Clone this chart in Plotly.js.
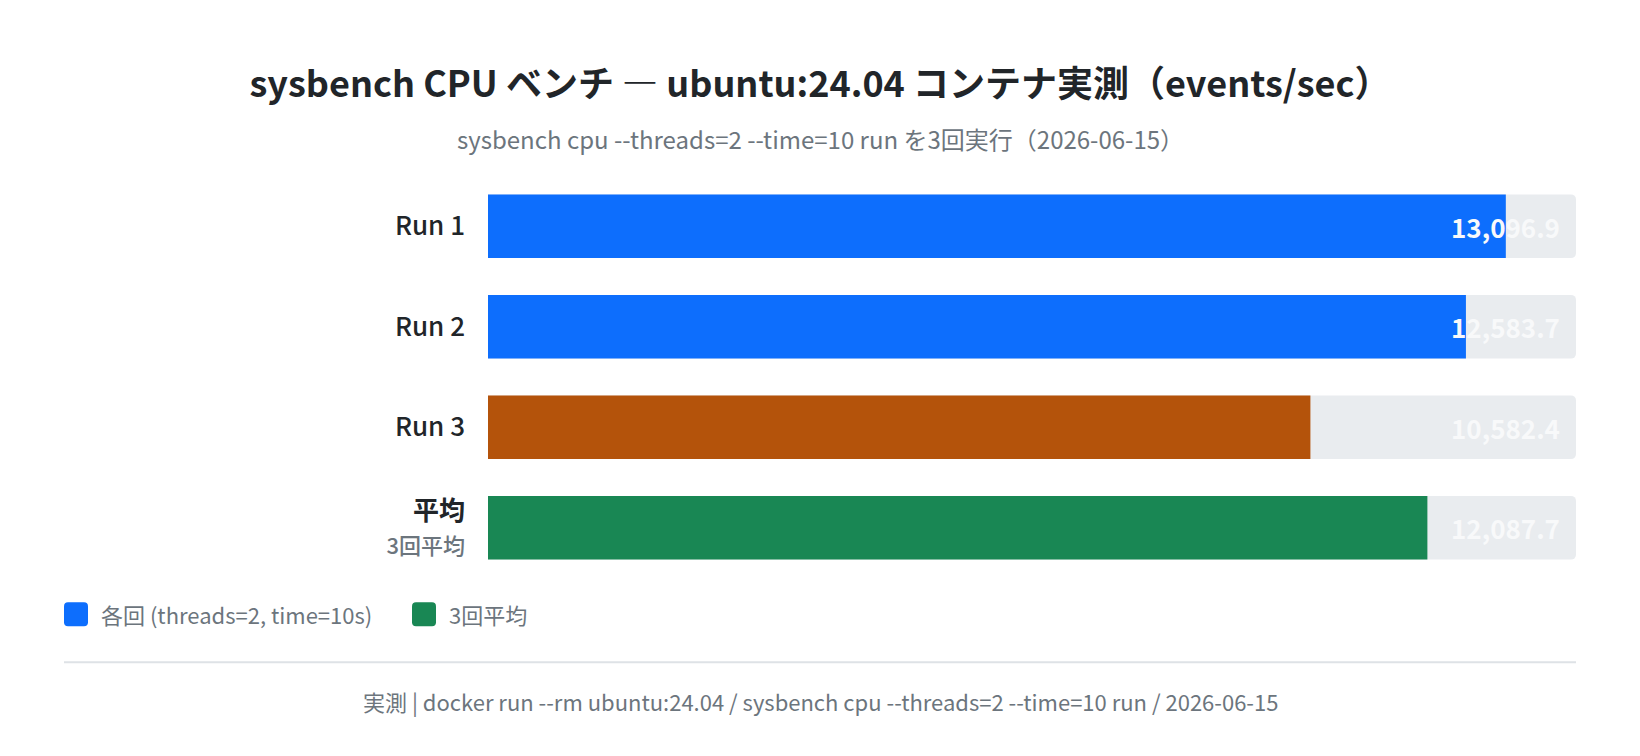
<!DOCTYPE html>
<html>
<head>
<meta charset="utf-8">
<script src="https://cdn.plot.ly/plotly-3.0.1.min.js"></script>
<style>
  html, body { margin: 0; padding: 0; background: #ffffff; }
  #plot { width: 1640px; height: 756px; }
</style>
</head>
<body>
<div id="plot"></div>
<script>
// values (events/sec)
var runNames = ["Run 1", "Run 2", "Run 3"];
var runValues = [13096.9, 12583.7, 10582.4];
var avgName = "平均";
var avgValue = 12087.7;
var axisMax = 14000;

var tickLabels = ["Run 1", "Run 2", "Run 3", "<b>平均</b><br><span style='font-size:22px;color:#6c757d'>3回平均</span>"];
var legendLabels = ["各回 (threads=2, time=10s)", "3回平均"];

var BLUE = "#0d6efd", ORANGE = "#b4530b", GREEN = "#198754";
var TRACK = "#e9ecef", DARK = "#212529", GREY = "#6c757d";
var runColors = [BLUE, BLUE, ORANGE];
var FONT = "Noto Sans CJK JP";

var cats = runNames.concat([avgName]);
var allValues = runValues.concat([avgValue]);

function fmt(v) {
  return v.toLocaleString("en-US", {minimumFractionDigits: 1, maximumFractionDigits: 1});
}

// plot area in pixels, used to place the non-data bits (legend, line, notes)
var L = 488, R = 1576, T = 175.75, B = 577.75;
function px(x) { return (x - L) / (R - L); }
function py(y) { return (B - y) / (B - T); }

function roundRect(x0, y0, x1, y1, r) {
  var rx = r / (R - L), ry = r / (B - T);
  var a = px(x0), b = px(x1), c = py(y0), d = py(y1);
  return "M" + (a + rx) + "," + c + " L" + (b - rx) + "," + c + " Q" + b + "," + c + " " + b + "," + (c - ry) +
    " L" + b + "," + (d + ry) + " Q" + b + "," + d + " " + (b - rx) + "," + d +
    " L" + (a + rx) + "," + d + " Q" + a + "," + d + " " + a + "," + (d + ry) +
    " L" + a + "," + (c - ry) + " Q" + a + "," + c + " " + (a + rx) + "," + c + " Z";
}

var track = {
  type: "bar", orientation: "h",
  y: cats, x: cats.map(function () { return axisMax; }),
  marker: {color: TRACK},
  hoverinfo: "skip", showlegend: false
};
var runs = {
  type: "bar", orientation: "h",
  y: runNames, x: runValues,
  marker: {color: runColors},
  name: legendLabels[0], showlegend: false
};
var avg = {
  type: "bar", orientation: "h",
  y: [avgName], x: [avgValue],
  marker: {color: GREEN},
  name: legendLabels[1], showlegend: false
};

var annotations = [];
cats.forEach(function (c, i) {
  annotations.push({
    x: axisMax, y: c, xref: "x", yref: "y",
    xanchor: "right", yanchor: "middle", xshift: -14,
    text: fmt(allValues[i]), showarrow: false,
    font: {family: FONT, size: 26, color: "#f8f9fa", weight: "bold"}
  });
});

// subtitle + footer
annotations.push({
  xref: "paper", yref: "paper", x: px(820), y: py(138),
  xanchor: "center", yanchor: "middle", showarrow: false,
  text: "sysbench cpu --threads=2 --time=10 run を3回実行（2026-06-15）",
  font: {family: FONT, size: 24, color: GREY}
});
annotations.push({
  xref: "paper", yref: "paper", x: px(820), y: py(701),
  xanchor: "center", yanchor: "middle", showarrow: false,
  text: "実測 | docker run --rm ubuntu:24.04 / sysbench cpu --threads=2 --time=10 run / 2026-06-15",
  font: {family: FONT, size: 22, color: GREY}
});

// hand-made legend
var legendColors = [BLUE, GREEN];
var legendX = [64, 412];
var shapes = [];
legendLabels.forEach(function (lab, i) {
  shapes.push({
    type: "path", xref: "paper", yref: "paper",
    path: roundRect(legendX[i], 602, legendX[i] + 24, 626, 4),
    fillcolor: legendColors[i], line: {width: 0}
  });
  annotations.push({
    xref: "paper", yref: "paper", x: px(legendX[i] + 35), y: py(614),
    xanchor: "left", yanchor: "middle", showarrow: false,
    text: lab, font: {family: FONT, size: 22, color: GREY}
  });
});

shapes.push({
  type: "line", xref: "paper", yref: "paper",
  x0: px(64), x1: px(1576), y0: py(662), y1: py(662),
  line: {color: "#dee2e6", width: 2}
});

var layout = {
  width: 1640, height: 756,
  paper_bgcolor: "#ffffff", plot_bgcolor: "#ffffff",
  margin: {l: L, r: 1640 - R, t: T, b: 756 - B, pad: 0},
  font: {family: FONT, color: DARK},
  title: {
    text: "<b>sysbench CPU ベンチ ― ubuntu:24.04 コンテナ実測（events/sec）</b>",
    x: 0.5, xref: "container", xanchor: "center",
    y: 1 - 84 / 756, yref: "container", yanchor: "middle",
    font: {family: FONT, size: 36, color: DARK}
  },
  barmode: "overlay",
  bargap: 0.366,
  barcornerradius: 5,
  showlegend: false,
  xaxis: {
    range: [0, axisMax], fixedrange: true,
    showgrid: false, zeroline: false, showline: false,
    showticklabels: false, ticks: ""
  },
  yaxis: {
    type: "category",
    categoryorder: "array", categoryarray: cats,
    autorange: "reversed",
    tickvals: cats, ticktext: tickLabels,
    ticks: "", showgrid: false, zeroline: false, showline: false,
    ticklabelstandoff: 22,
    tickfont: {family: FONT, size: 26, color: DARK, weight: 500}
  },
  annotations: annotations,
  shapes: shapes
};

Plotly.newPlot("plot", [track, runs, avg], layout, {displayModeBar: false, staticPlot: true});
</script>
</body>
</html>
